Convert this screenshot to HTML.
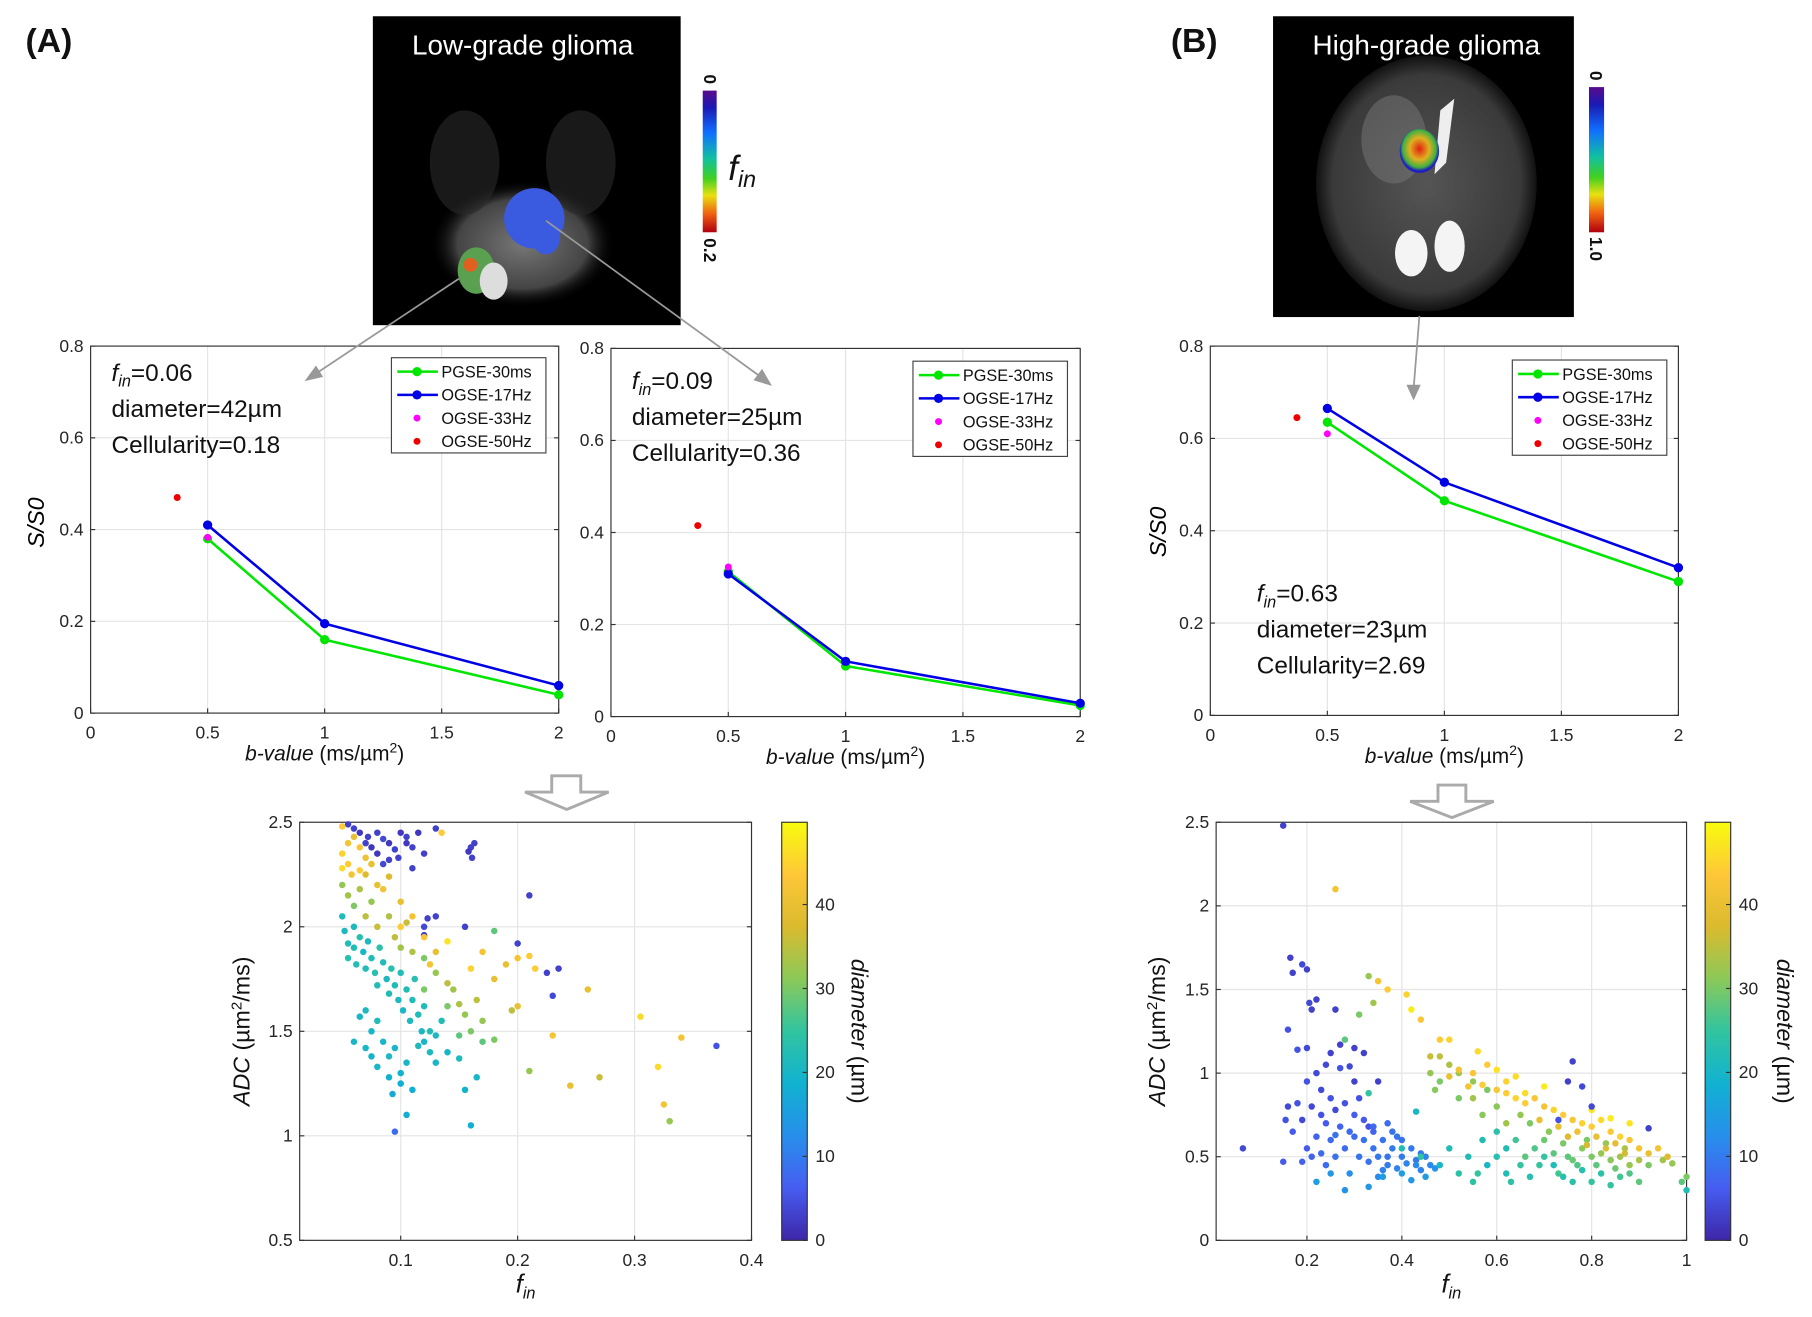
<!DOCTYPE html>
<html><head><meta charset="utf-8"><style>
html,body{margin:0;padding:0;background:#fff;}
svg{display:block;font-family:"Liberation Sans",sans-serif;}
.tk{font-size:15px;fill:#262626;}
</style></head><body>
<svg id="fig" width="1812" height="1317" viewBox="0 0 1560 1134" preserveAspectRatio="none" xmlns="http://www.w3.org/2000/svg">
<defs>
<linearGradient id="jet" x1="0" y1="0" x2="0" y2="1">
<stop offset="0" stop-color="#5a0a8c"/><stop offset="0.12" stop-color="#1a1ab4"/><stop offset="0.3" stop-color="#1070ff"/><stop offset="0.48" stop-color="#10c0a0"/><stop offset="0.62" stop-color="#40d020"/><stop offset="0.74" stop-color="#e8e010"/><stop offset="0.87" stop-color="#f06010"/><stop offset="1" stop-color="#b00010"/>
</linearGradient>
<linearGradient id="parula" x1="0" y1="1" x2="0" y2="0">
<stop offset="0" stop-color="rgb(62,38,168)"/><stop offset="0.125" stop-color="rgb(70,93,241)"/><stop offset="0.25" stop-color="rgb(39,143,235)"/><stop offset="0.375" stop-color="rgb(17,178,209)"/><stop offset="0.5" stop-color="rgb(49,196,160)"/><stop offset="0.625" stop-color="rgb(139,201,88)"/><stop offset="0.75" stop-color="rgb(219,186,46)"/><stop offset="0.875" stop-color="rgb(253,199,56)"/><stop offset="1" stop-color="rgb(249,251,14)"/>
</linearGradient>
<radialGradient id="brainA" cx="0.5" cy="0.5" r="0.5"><stop offset="0" stop-color="#777"/><stop offset="0.7" stop-color="#444"/><stop offset="1" stop-color="#000" stop-opacity="0"/></radialGradient>
<radialGradient id="brainB" cx="0.5" cy="0.5" r="0.5"><stop offset="0" stop-color="#555"/><stop offset="0.85" stop-color="#3a3a3a"/><stop offset="1" stop-color="#111"/></radialGradient>
<radialGradient id="tumB" cx="0.5" cy="0.45" r="0.5"><stop offset="0" stop-color="#e02010"/><stop offset="0.5" stop-color="#e0b020"/><stop offset="0.85" stop-color="#40b040"/><stop offset="1" stop-color="#2020c0"/></radialGradient>
</defs>

<text x="22" y="45" font-size="29" font-weight="bold" fill="#111">(A)</text>
<text x="1008" y="45" font-size="29" font-weight="bold" fill="#111">(B)</text>

<g>
<rect x="321" y="14" width="265" height="266" fill="#000"/>
<ellipse cx="450" cy="210" rx="80" ry="55" fill="url(#brainA)"/>
<ellipse cx="400" cy="140" rx="30" ry="45" fill="#2a2a2a" opacity="0.6"/>
<ellipse cx="500" cy="140" rx="30" ry="45" fill="#2a2a2a" opacity="0.6"/>
<ellipse cx="460" cy="188" rx="26" ry="26" fill="#3a5ae0"/>
<ellipse cx="470" cy="205" rx="12" ry="14" fill="#3a5ae0"/>
<ellipse cx="410" cy="233" rx="16" ry="20" fill="#5aa050"/>
<ellipse cx="405" cy="228" rx="6" ry="6" fill="#e06020"/>
<ellipse cx="425" cy="242" rx="12" ry="16" fill="#ddd"/>
<text x="450" y="47" font-size="24" fill="#fff" text-anchor="middle">Low-grade glioma</text>
</g>
<rect x="605" y="78" width="12" height="122" fill="url(#jet)"/>
<text transform="translate(606,64) rotate(90)" font-size="15" font-weight="bold" fill="#111">0</text>
<text transform="translate(606,205) rotate(90)" font-size="15" font-weight="bold" fill="#111">0.2</text>
<text x="627" y="155" font-size="30" font-style="italic" fill="#111">f<tspan font-size="20" dy="6">in</tspan></text>

<g>
<rect x="1096" y="14" width="259" height="259" fill="#000"/>
<ellipse cx="1228" cy="158" rx="95" ry="110" fill="url(#brainB)"/>
<ellipse cx="1200" cy="120" rx="28" ry="38" fill="#777" opacity="0.5"/>
<path d="M1240 95 L1252 85 L1245 140 L1235 150 Z" fill="#eee"/>
<ellipse cx="1215" cy="218" rx="14" ry="20" fill="#f4f4f4"/>
<ellipse cx="1248" cy="212" rx="13" ry="22" fill="#f4f4f4"/>
<ellipse cx="1222" cy="130" rx="17" ry="19" fill="url(#tumB)"/>
<text x="1228" y="47" font-size="24" fill="#fff" text-anchor="middle">High-grade glioma</text>
</g>
<rect x="1368" y="75" width="13" height="125" fill="url(#jet)"/>
<text transform="translate(1369,61) rotate(90)" font-size="15" font-weight="bold" fill="#111">0</text>
<text transform="translate(1369,204) rotate(90)" font-size="15" font-weight="bold" fill="#111">1.0</text>

<g fill="#fff" stroke="#aaa" stroke-width="2.5">
<polygon points="475,668 500,668 500,682 524,682 488,697 452,682 475,682"/>
<polygon points="1238,676 1262,676 1262,690 1286,690 1250,704 1214,690 1238,690"/>
</g>
<g id="plots"></g>
<g stroke="#999" stroke-width="1.5" fill="#999">
<line x1="395" y1="240" x2="270" y2="323"/><polygon points="264,327 272,316 277,324"/>
<line x1="470" y1="190" x2="657" y2="326"/><polygon points="663,331 650,327 656,319"/>
<line x1="1222" y1="272" x2="1217" y2="335"/><polygon points="1217,343 1212,332 1222,332"/>
</g>
</svg>
<script>
// ---- line chart data ----
const bValues = [0.5, 1, 2];
const a1Pgse = [0.38, 0.16, 0.04];
const a1Ogse17 = [0.41, 0.195, 0.06];
const a1Ogse33 = [0.383];
const a1Ogse50 = [0.47];
const a2Pgse = [0.315, 0.11, 0.024];
const a2Ogse17 = [0.31, 0.12, 0.029];
const a2Ogse33 = [0.325];
const a2Ogse50 = [0.415];
const b1Pgse = [0.635, 0.465, 0.29];
const b1Ogse17 = [0.665, 0.505, 0.32];
const b1Ogse33 = [0.61];
const b1Ogse50 = [0.645];
const bOgse33 = [0.5];
const bOgse50 = [0.37];
const lineXTicks = [0, 0.5, 1, 1.5, 2];
const lineXTickLabels = ["0", "0.5", "1", "1.5", "2"];
const lineYTicks = [0, 0.2, 0.4, 0.6, 0.8];
const lineYTickLabels = ["0", "0.2", "0.4", "0.6", "0.8"];
const legendLabels = ["PGSE-30ms", "OGSE-17Hz", "OGSE-33Hz", "OGSE-50Hz"];

// ---- scatter A data (f_in, ADC, diameter) ----
const scatterAFin = [0.055,0.06,0.065,0.07,0.075,0.08,0.085,0.09,0.095,0.1,0.105,0.11,0.115,0.13,0.16,0.163,0.158,0.161,0.09,0.085,0.08,0.11,0.098,0.12,0.105,0.072,0.21,0.123,0.13,0.12,0.155,0.2,0.225,0.23,0.37,0.095,0.12,0.235,
0.05,0.055,0.05,0.055,0.06,0.065,0.07,0.058,0.05,0.075,0.065,0.07,0.08,0.085,0.09,0.135,0.1,0.11,0.12,0.14,0.16,0.17,0.18,0.19,0.2,0.21,0.215,0.2,0.23,0.26,0.305,0.34,0.32,0.325,0.245,0.1,0.105,0.13,0.125,
0.05,0.055,0.06,0.065,0.07,0.075,0.08,0.09,0.095,0.1,0.11,0.12,0.13,0.14,0.145,0.15,0.155,0.165,0.17,0.18,0.195,0.21,0.27,0.33,0.16,0.17,0.12,0.14,0.15,0.18,
0.05,0.052,0.055,0.055,0.06,0.06,0.062,0.065,0.068,0.07,0.072,0.075,0.078,0.08,0.082,0.085,0.088,0.09,0.092,0.095,0.098,0.1,0.102,0.105,0.108,0.11,0.112,0.115,0.118,0.12,0.065,0.07,0.075,0.08,0.085,0.09,0.095,0.1,0.105,0.11,0.12,0.125,0.13,0.135,0.14,0.15,0.155,0.16,0.165,0.1,0.093,0.105,0.09,0.06,0.07,0.075,0.08,0.115,0.125,0.13];
const scatterAAdc = [2.49,2.47,2.45,2.4,2.38,2.45,2.42,2.4,2.37,2.45,2.43,2.38,2.45,2.47,2.38,2.4,2.36,2.33,2.32,2.3,2.35,2.28,2.33,2.35,2.4,2.43,2.15,2.04,2.05,2.0,2.0,1.92,1.78,1.67,1.43,1.02,1.96,1.8,
2.48,2.4,2.35,2.3,2.43,2.38,2.33,2.25,2.28,2.3,2.27,2.25,2.2,2.18,2.24,2.45,2.12,2.05,1.95,1.93,1.8,1.88,1.75,1.82,1.85,1.86,1.8,1.62,1.48,1.7,1.57,1.47,1.33,1.15,1.24,2.0,2.02,1.88,1.82,
2.2,2.15,2.1,2.18,2.05,2.12,2.0,2.05,1.95,1.9,1.88,1.85,1.78,1.73,1.7,1.63,1.58,1.65,1.55,1.98,1.6,1.31,1.28,1.07,1.5,1.45,1.7,1.62,1.48,1.46,
2.05,1.98,1.92,1.85,2.0,1.9,1.82,1.95,1.88,1.8,1.93,1.85,1.78,1.72,1.9,1.83,1.75,1.68,1.8,1.72,1.65,1.78,1.6,1.7,1.55,1.65,1.75,1.58,1.5,1.62,1.57,1.6,1.5,1.55,1.45,1.38,1.42,1.3,1.35,1.22,1.45,1.4,1.35,1.55,1.4,1.37,1.22,1.05,1.28,1.25,1.2,1.1,1.28,1.45,1.42,1.38,1.33,1.43,1.5,1.48];
const scatterADiam = [3,3,2,3,2,3,4,2,3,2,3,3,2,3,3,3,2,3,3,4,2,3,3,3,2,3,3,3,3,4,3,3,3,4,5,8,3,3,
44,42,45,44,40,43,41,42,46,40,44,38,40,42,38,44,40,42,43,47,45,42,40,40,42,44,44,40,42,40,46,42,46,42,40,44,36,40,42,
32,33,30,34,35,32,36,34,35,33,34,30,32,35,33,34,32,35,32,28,35,32,36,32,30,28,30,30,28,30,
22,21,22,23,21,22,22,23,20,22,21,22,23,22,24,22,21,22,23,22,21,22,20,22,21,22,23,22,21,22,20,21,20,22,20,21,20,19,20,18,20,21,20,22,20,21,19,18,20,18,17,18,19,20,20,19,20,21,22,21];

// ---- scatter B data ----
const scatterBFin = [0.15,0.065,0.15,0.165,0.17,0.19,0.2,0.205,0.21,0.22,0.26,0.16,0.18,0.2,0.25,0.27,0.3,0.29,0.27,0.24,0.22,0.2,0.18,0.16,0.155,0.17,0.19,0.21,0.23,0.25,0.26,0.28,0.3,0.32,0.33,0.3,0.35,0.32,0.24,0.27,0.22,0.25,0.2,0.19,0.23,0.28,0.3,0.32,0.34,0.36,0.38,0.4,0.35,0.33,0.31,0.37,0.39,0.41,0.43,0.42,0.44,0.36,0.38,0.34,0.29,0.26,0.4,0.44,0.46,0.45,0.47,0.35,0.29,0.25,0.22,0.28,0.33,0.36,0.4,0.42,0.45,0.23,0.31,0.34,0.37,0.37,0.39,0.43,0.26,0.24,0.21,
0.33,0.28,0.31,0.43,0.4,0.44,0.48,0.5,0.52,0.54,0.56,0.58,0.6,0.62,0.63,0.65,0.67,0.7,0.72,0.74,0.76,0.78,0.8,0.82,0.84,0.86,0.88,0.9,0.92,0.95,0.97,1.0,1.0,0.99,0.55,0.57,0.6,0.62,0.64,0.66,0.68,0.7,0.72,0.74,0.76,0.78,0.8,0.82,0.84,0.86,0.88,0.9,0.73,0.77,0.81,0.85,0.69,0.75,0.79,0.83,0.87,0.71,0.67,0.65,0.6,0.58,0.55,0.52,0.5,0.48,0.46,0.48,0.52,0.55,0.57,0.62,0.46,0.33,0.34,0.47,
0.26,0.35,0.37,0.41,0.42,0.44,0.48,0.5,0.56,0.6,0.64,0.5,0.52,0.54,0.57,0.6,0.62,0.64,0.66,0.68,0.7,0.72,0.74,0.76,0.78,0.8,0.82,0.84,0.86,0.88,0.9,0.92,0.94,0.96,0.73,0.77,0.81,0.85,0.75,0.79,0.83,0.87,0.69,0.66,0.7,0.62,0.8,0.84,0.88,0.58,0.55,
0.75,0.78,0.8,0.76,0.92,0.73];
const scatterBAdc = [2.48,0.55,0.47,1.69,1.6,1.65,1.62,1.42,1.38,1.44,1.38,1.26,1.14,1.15,1.12,1.17,1.15,1.04,1.03,1.05,1.0,0.95,0.82,0.8,0.72,0.65,0.72,0.8,0.9,0.85,0.78,0.82,0.75,0.72,0.68,0.95,0.95,1.12,0.7,0.68,0.62,0.6,0.55,0.47,0.52,0.55,0.62,0.6,0.55,0.6,0.55,0.5,0.5,0.47,0.5,0.45,0.43,0.46,0.48,0.55,0.42,0.42,0.65,0.68,0.65,0.63,0.6,0.52,0.45,0.5,0.43,0.38,0.4,0.4,0.35,0.3,0.32,0.38,0.4,0.36,0.38,0.75,0.85,0.65,0.5,0.7,0.62,0.45,0.5,0.45,0.5,
0.88,1.2,1.35,0.77,0.55,0.5,0.45,0.55,0.4,0.5,0.4,0.45,0.5,0.4,0.35,0.45,0.38,0.5,0.45,0.38,0.35,0.42,0.35,0.4,0.33,0.38,0.4,0.35,0.45,0.48,0.46,0.38,0.3,0.35,0.35,0.6,0.65,0.55,0.6,0.5,0.55,0.6,0.52,0.58,0.48,0.55,0.5,0.52,0.48,0.5,0.45,0.48,0.4,0.45,0.45,0.43,0.45,0.5,0.6,0.58,0.55,0.65,0.7,0.75,0.8,0.9,0.95,1.0,1.05,1.1,1.0,0.95,0.85,0.85,0.75,0.7,1.1,1.58,1.42,0.9,
2.1,1.55,1.5,1.47,1.38,1.32,1.2,1.2,1.13,1.02,0.98,0.98,1.02,0.92,0.93,0.9,0.88,0.85,0.82,0.85,0.8,0.78,0.75,0.72,0.7,0.68,0.72,0.65,0.62,0.6,0.55,0.52,0.55,0.5,0.68,0.65,0.62,0.58,0.62,0.57,0.55,0.52,0.72,0.88,0.92,0.95,0.78,0.73,0.7,1.05,1.0,
0.95,0.92,0.8,1.07,0.67,0.72];
const scatterBDiam = [3,4,6,3,3,4,3,4,3,3,3,5,5,4,3,3,3,4,5,4,4,5,5,4,5,6,4,4,4,5,4,5,6,6,5,3,3,3,6,7,7,8,6,7,8,8,8,9,9,9,10,10,10,9,9,10,11,11,10,10,11,11,9,8,8,9,9,10,12,11,13,12,13,14,15,13,14,15,15,14,15,5,5,7,9,8,9,12,9,8,7,
25,28,30,20,22,25,20,22,24,22,25,20,23,22,24,25,23,25,22,23,24,23,25,24,25,26,27,28,30,33,32,30,22,28,24,22,24,22,26,28,27,29,28,30,29,31,30,32,31,33,32,34,26,27,28,29,25,28,30,32,34,31,30,32,31,30,32,33,34,35,32,30,30,33,31,33,36,32,33,31,
42,42,44,45,48,43,44,45,46,47,46,40,42,42,44,43,44,45,44,43,42,45,44,43,45,44,46,44,45,43,42,40,42,38,40,41,40,39,38,37,38,37,40,46,48,45,47,48,47,44,43,
3,4,4,3,3,5];
const scatterAXTicks = [0.1, 0.2, 0.3, 0.4];
const scatterAXLabels = ["0.1", "0.2", "0.3", "0.4"];
const scatterAYTicks = [0.5, 1, 1.5, 2, 2.5];
const scatterAYLabels = ["0.5", "1", "1.5", "2", "2.5"];
const scatterBXTicks = [0.2, 0.4, 0.6, 0.8, 1];
const scatterBXLabels = ["0.2", "0.4", "0.6", "0.8", "1"];
const scatterBYTicks = [0, 0.5, 1, 1.5, 2, 2.5];
const scatterBYLabels = ["0", "0.5", "1", "1.5", "2", "2.5"];
const cbTicks = [0, 10, 20, 30, 40];
const cbLabels = ["0", "10", "20", "30", "40"];

const NS = "http://www.w3.org/2000/svg";
const root = document.getElementById("plots");
function mk(tag, attrs, parent, text) {
  const e = document.createElementNS(NS, tag);
  for (const k in attrs) e.setAttribute(k, attrs[k]);
  if (text !== undefined) e.textContent = text;
  (parent || root).appendChild(e);
  return e;
}
function scale(d0, d1, r0, r1) { return v => r0 + (v - d0) / (d1 - d0) * (r1 - r0); }

const parulaStops = [[62,38,168],[70,93,241],[39,143,235],[17,178,209],[49,196,160],[139,201,88],[219,186,46],[253,199,56],[249,251,14]];
function parula(t) {
  t = Math.max(0, Math.min(1, t)) * 8;
  const i = Math.min(7, Math.floor(t)), f = t - i;
  const a = parulaStops[i], b = parulaStops[i + 1];
  return "rgb(" + [0,1,2].map(k => Math.round(a[k] + (b[k] - a[k]) * f)).join(",") + ")";
}

function axesFrame(g, x0, x1, y0, y1, sx, sy, xt, xl, yt, yl, grid) {
  mk("rect", {x:x0, y:y0, width:x1-x0, height:y1-y0, fill:"#fff"}, g);
  xt.forEach((v, i) => {
    const x = sx(v);
    if (grid) mk("line", {x1:x, x2:x, y1:y0, y2:y1, stroke:"#e4e4e4", "stroke-width":1}, g);
    mk("line", {x1:x, x2:x, y1:y1, y2:y1-4, stroke:"#333"}, g);
    const t = mk("text", {x:x, y:y1+22, class:"tk", "text-anchor":"middle"}, g, xl[i]);
    
    
  });
  yt.forEach((v, i) => {
    const y = sy(v);
    if (grid) mk("line", {x1:x0, x2:x1, y1:y, y2:y, stroke:"#e4e4e4", "stroke-width":1}, g);
    mk("line", {x1:x0, x2:x0+4, y1:y, y2:y, stroke:"#333"}, g);
    mk("line", {x1:x1, x2:x1-4, y1:y, y2:y, stroke:"#333"}, g);
    const t = mk("text", {x:x0-6, y:y+5, class:"tk", "text-anchor":"end"}, g, yl[i]);
    
    
  });
  mk("rect", {x:x0, y:y0, width:x1-x0, height:y1-y0, fill:"none", stroke:"#333", "stroke-width":1}, g);
}

function linePlot(name, x0, x1, y0, y1, pg, o17, o33, o50, legX, legY, ann, annX, annY) {
  const g = mk("g", {});
  
  
  const sx = scale(0, 2, x0, x1), sy = scale(0, 0.8, y1, y0);
  axesFrame(g, x0, x1, y0, y1, sx, sy, lineXTicks, lineXTickLabels, lineYTicks, lineYTickLabels, true);
  [[pg, "#00e600", "pgse-30ms-line"], [o17, "#0000e6", "ogse-17hz-line"]].forEach(([arr, c, nm]) => {
    const pts = bValues.map((b, i) => sx(b) + "," + sy(arr[i])).join(" ");
    const pl = mk("polyline", {points:pts, fill:"none", stroke:c, "stroke-width":2.2}, g);
    
    
    bValues.forEach((b, i) => {
      const m = mk("circle", {cx:sx(b), cy:sy(arr[i]), r:4, fill:c}, g);
      
      
    });
  });
  const p33 = mk("circle", {cx:sx(bOgse33[0]), cy:sy(o33[0]), r:3, fill:"#ff00ff"}, g);
  
  
  const p50 = mk("circle", {cx:sx(bOgse50[0]), cy:sy(o50[0]), r:3, fill:"#ee0000"}, g);
  
  
  const lg = mk("g", {}, g);
  
  
  mk("rect", {x:legX, y:legY, width:133, height:82, fill:"#fff", stroke:"#444"}, lg);
  const cols = ["#00e600", "#0000e6", "#ff00ff", "#ee0000"];
  legendLabels.forEach((lab, i) => {
    const yy = legY + 12 + i * 20;
    const e = mk("g", {}, lg);
    
    
    if (i < 2) mk("line", {x1:legX+5, x2:legX+40, y1:yy, y2:yy, stroke:cols[i], "stroke-width":2.2}, e);
    mk("circle", {cx:legX+22, cy:yy, r:i < 2 ? 4 : 3, fill:cols[i]}, e);
    mk("text", {x:legX+43, y:yy+5, "font-size":14, fill:"#111"}, e, lab);
  });
  const a = mk("g", {}, g);
  
  
  const t1 = mk("text", {x:annX, y:annY, "font-size":21, fill:"#111"}, a);
  mk("tspan", {"font-style":"italic"}, t1, "f");
  mk("tspan", {"font-style":"italic", "font-size":14, dy:5}, t1, "in");
  mk("tspan", {dy:-5}, t1, "=" + ann[0]);
  mk("text", {x:annX, y:annY+31, "font-size":21, fill:"#111"}, a, "diameter=" + ann[1] + "\u00b5m");
  mk("text", {x:annX, y:annY+62, "font-size":21, fill:"#111"}, a, "Cellularity=" + ann[2]);
  const xl = mk("text", {x:(x0+x1)/2, y:y1+41, "font-size":18, "text-anchor":"middle", fill:"#111"}, g);
  
  
  mk("tspan", {"font-style":"italic"}, xl, "b-value");
  mk("tspan", {}, xl, " (ms/\u00b5m");
  mk("tspan", {"font-size":12, dy:-7}, xl, "2");
  mk("tspan", {dy:7}, xl, ")");
}

function scatter(name, x0, x1, y0, y1, xd0, xd1, yd0, yd1, fin, adc, diam, xt, xl, yt, yl, cbx, ylabX, dlabX) {
  const g = mk("g", {});
  
  
  const sx = scale(xd0, xd1, x0, x1), sy = scale(yd0, yd1, y1, y0);
  axesFrame(g, x0, x1, y0, y1, sx, sy, xt, xl, yt, yl, true);
  fin.forEach((f, i) => {
    const c = mk("circle", {cx:sx(f), cy:sy(adc[i]), r:2.8, fill:parula(diam[i] / 49.8)}, g);
    
    
  });
  const cb = mk("rect", {x:cbx, y:y0, width:22, height:y1-y0, fill:"url(#parula)", stroke:"#333"}, g);
  
  
  const cs = scale(0, 49.8, y1, y0);
  cbTicks.forEach((v, i) => {
    mk("line", {x1:cbx+22, x2:cbx+18, y1:cs(v), y2:cs(v), stroke:"#333"}, g);
    const t = mk("text", {x:cbx+29, y:cs(v)+5, class:"tk"}, g, cbLabels[i]);
    
    
  });
  const yl2 = mk("text", {transform:"translate(" + ylabX + "," + ((y0+y1)/2) + ") rotate(-90)", "font-size":20, "text-anchor":"middle", fill:"#111"}, g);
  
  
  mk("tspan", {"font-style":"italic"}, yl2, "ADC");
  mk("tspan", {}, yl2, " (\u00b5m");
  mk("tspan", {"font-size":13, dy:-7}, yl2, "2");
  mk("tspan", {dy:7}, yl2, "/ms)");
  const dl = mk("text", {transform:"translate(" + dlabX + "," + ((y0+y1)/2) + ") rotate(90)", "font-size":20, "text-anchor":"middle", fill:"#111"}, g);
  
  
  mk("tspan", {"font-style":"italic"}, dl, "diameter");
  mk("tspan", {}, dl, " (\u00b5m)");
  const xt2 = mk("text", {x:(x0+x1)/2, y:y1+45, "font-size":22, "font-style":"italic", "text-anchor":"middle", fill:"#111"}, g);
  
  
  mk("tspan", {}, xt2, "f");
  mk("tspan", {"font-size":14, dy:5}, xt2, "in");
}

linePlot("signal-plot-a1", 78, 481, 298, 614, a1Pgse, a1Ogse17, a1Ogse33, a1Ogse50, 337, 308, ["0.06","42","0.18"], 96, 328);
linePlot("signal-plot-a2", 526, 930, 300, 617, a2Pgse, a2Ogse17, a2Ogse33, a2Ogse50, 786, 311, ["0.09","25","0.36"], 544, 335);
linePlot("signal-plot-b", 1042, 1445, 298, 616, b1Pgse, b1Ogse17, b1Ogse33, b1Ogse50, 1302, 310, ["0.63","23","2.69"], 1082, 518);

const s1 = document.createElementNS(NS, "text");
s1.setAttribute("transform", "translate(38,450) rotate(-90)");
s1.setAttribute("font-size", "20"); s1.setAttribute("font-style", "italic"); s1.setAttribute("text-anchor", "middle");
s1.textContent = "S/S0";


root.appendChild(s1);
const s2 = s1.cloneNode(true);
s2.setAttribute("transform", "translate(1004,458) rotate(-90)");


root.appendChild(s2);

scatter("adc-scatter-a", 258, 647, 708, 1068, 0.0136, 0.4, 0.5, 2.5, scatterAFin, scatterAAdc, scatterADiam, scatterAXTicks, scatterAXLabels, scatterAYTicks, scatterAYLabels, 673, 215, 733);
scatter("adc-scatter-b", 1047, 1452, 708, 1068, 0.0086, 1.0, 0, 2.5, scatterBFin, scatterBAdc, scatterBDiam, scatterBXTicks, scatterBXLabels, scatterBYTicks, scatterBYLabels, 1468, 1003, 1530);
</script>
</body></html>
